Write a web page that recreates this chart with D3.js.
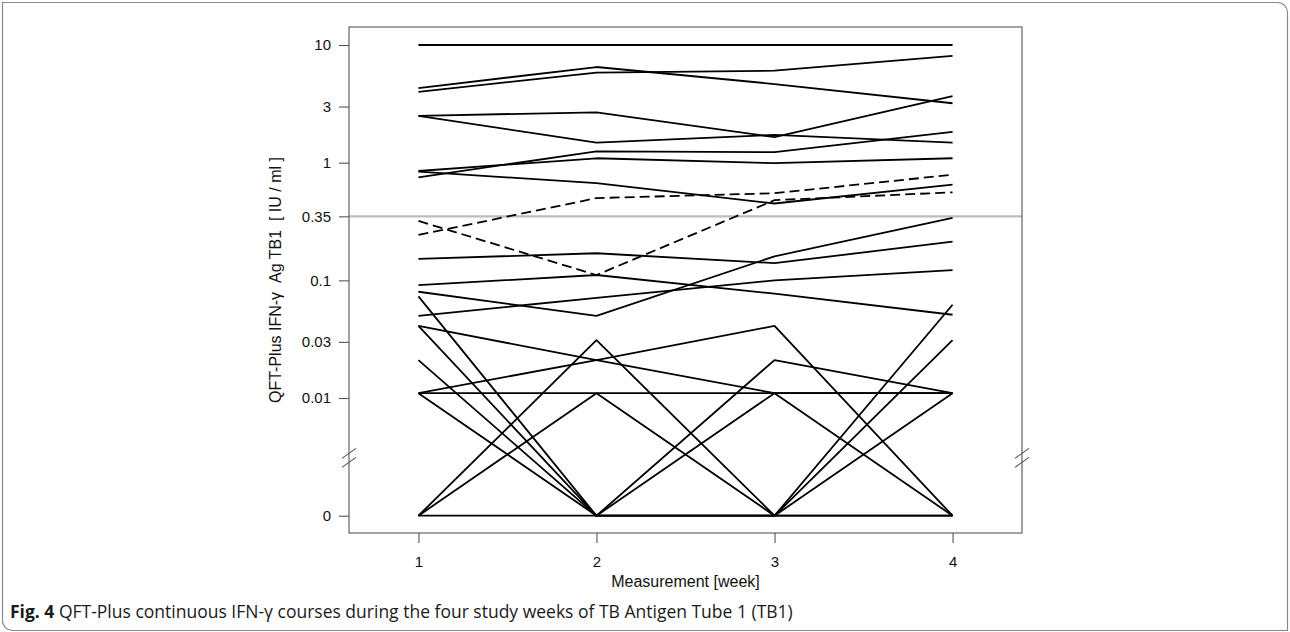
<!DOCTYPE html>
<html>
<head>
<meta charset="utf-8">
<script src="https://cdn.jsdelivr.net/npm/d3@7"></script>
<style>
  html, body { margin: 0; padding: 0; background: #fff; }
  svg { display: block; }
  text { font-family: "Liberation Sans", Arial, sans-serif; }
</style>
</head>
<body>
<svg id="chart" width="1290" height="632"></svg>
<script>
// Measurement weeks and y-axis ticks (0 sits below the axis break)
const weeks = [1, 2, 3, 4];
const yTicks = [0, 0.01, 0.03, 0.1, 0.35, 1, 3, 10];
const yTickLabels = ["0", "0.01", "0.03", "0.1", "0.35", "1", "3", "10"];
const cutoff = 0.35;

// Individual IFN-γ courses, IU/ml at weeks 1-4 (solid lines)
const s01 = [10, 10, 10, 10];
const s02 = [4.3, 6.5, 4.66, 3.2];
const s03 = [4.0, 5.83, 6.05, 8.07];
const s04 = [2.5, 2.68, 1.65, 3.68];
const s05 = [2.5, 1.48, 1.72, 1.48];
const s06 = [0.85, 1.09, 0.99, 1.09];
const s07 = [0.75, 1.25, 1.23, 1.83];
const s08 = [0.84, 0.67, 0.45, 0.65];
const s09 = [0.152, 0.17, 0.14, 0.213];
const s10 = [0.091, 0.111, 0.077, 0.051];
const s11 = [0.08, 0.05, 0.16, 0.34];
const s12 = [0.05, 0.071, 0.1, 0.122];
const s13 = [0.073, 0, 0.021, 0.011];
const s14 = [0.041, 0.021, 0.011, 0];
const s15 = [0.041, 0, 0.011, 0.011];
const s16 = [0.021, 0, 0, 0.011];
const s17 = [0.011, 0, 0, 0];
const s18 = [0.011, 0.021, 0.041, 0];
const s19 = [0.011, 0.011, 0.011, 0.011];
const s20 = [0, 0.031, 0, 0.062];
const s21 = [0, 0.011, 0, 0.031];
const s22 = [0, 0, 0, 0];

// Courses that cross the 0.35 cut-off (dashed lines)
const d01 = [0.32, 0.111, 0.48, 0.56];
const d02 = [0.243, 0.50, 0.55, 0.79];

const solidSeries = [s01, s02, s03, s04, s05, s06, s07, s08, s09, s10, s11,
                     s12, s13, s14, s15, s16, s17, s18, s19, s20, s21, s22];
const dashedSeries = [d01, d02];

// zero is drawn at 0.001 on the log axis, below the break
const ZERO_AT = 0.001;
const BREAK_AT = 0.0031;

const svg = d3.select("#chart");
const W = 1290, H = 632;

// outer figure frame (square top-left / bottom-right, rounded others)
const r = 10;
svg.append("path")
  .attr("d", `M2.5,2.5 H${W - 2.5 - r} A${r},${r} 0 0 1 ${W - 2.5},${2.5 + r}
              V${H - 1.5} H${2.5 + r} A${r},${r} 0 0 1 2.5,${H - 1.5 - r} Z`)
  .attr("fill", "none")
  .attr("stroke", "#8a8a8a")
  .attr("stroke-width", 1.2);

// plot region
const box = { left: 349, right: 1022, top: 27, bottom: 533 };

const x = d3.scaleLinear()
  .domain([0.61, 4.39])
  .range([box.left, box.right]);

const y = d3.scaleLog()
  .domain([Math.pow(10, -3.147), Math.pow(10, 1.153)])
  .range([box.bottom, box.top]);

const yv = v => y(v === 0 ? ZERO_AT : v);

// cut-off reference line
svg.append("line")
  .attr("x1", box.left).attr("x2", box.right)
  .attr("y1", y(cutoff)).attr("y2", y(cutoff))
  .attr("stroke", "#bdbdbd")
  .attr("stroke-width", 2.4);

const line = d3.line()
  .x((d, i) => x(weeks[i]))
  .y(d => yv(d));

const g = svg.append("g");
g.selectAll("path.solid")
  .data(solidSeries)
  .join("path")
  .attr("class", "solid")
  .attr("d", line)
  .attr("fill", "none")
  .attr("stroke", "#000")
  .attr("stroke-width", 1.8)
  .attr("stroke-linejoin", "round");

g.selectAll("path.dashed")
  .data(dashedSeries)
  .join("path")
  .attr("class", "dashed")
  .attr("d", line)
  .attr("fill", "none")
  .attr("stroke", "#000")
  .attr("stroke-width", 1.8)
  .attr("stroke-dasharray", "10,5");

// plot box
svg.append("rect")
  .attr("x", box.left).attr("y", box.top)
  .attr("width", box.right - box.left)
  .attr("height", box.bottom - box.top)
  .attr("fill", "none")
  .attr("stroke", "#555")
  .attr("stroke-width", 1.1);

// y axis
const yAxis = d3.axisLeft(y)
  .tickValues(yTicks.map(v => v === 0 ? ZERO_AT : v))
  .tickFormat((d, i) => yTickLabels[i])
  .tickSize(10)
  .tickPadding(8);
const yg = svg.append("g")
  .attr("transform", `translate(${box.left},0)`)
  .call(yAxis);
yg.select(".domain").remove();
yg.selectAll(".tick line").attr("stroke", "#555").attr("stroke-width", 1.1);
yg.selectAll(".tick text")
  .attr("font-family", "Liberation Sans, Arial, sans-serif")
  .attr("font-size", 15)
  .attr("fill", "#111");

// x axis
const xAxis = d3.axisBottom(x)
  .tickValues(weeks)
  .tickFormat(d3.format("d"))
  .tickSize(10)
  .tickPadding(13);
const xg = svg.append("g")
  .attr("transform", `translate(0,${box.bottom})`)
  .call(xAxis);
xg.select(".domain").remove();
xg.selectAll(".tick line").attr("stroke", "#555").attr("stroke-width", 1.1);
xg.selectAll(".tick text")
  .attr("font-family", "Liberation Sans, Arial, sans-serif")
  .attr("font-size", 15)
  .attr("fill", "#111");

// axis-break slashes on both vertical sides of the box
const yb = y(BREAK_AT);
[box.left, box.right].forEach(bx => {
  [-4.5, 4.5].forEach(off => {
    svg.append("line")
      .attr("x1", bx - 7).attr("y1", yb + off + 5)
      .attr("x2", bx + 7).attr("y2", yb + off - 5)
      .attr("stroke", "#555")
      .attr("stroke-width", 1.1);
  });
});

// axis titles
svg.append("text")
  .attr("x", (box.left + box.right) / 2)
  .attr("y", 587)
  .attr("text-anchor", "middle")
  .attr("font-size", 16)
  .attr("fill", "#111")
  .text("Measurement [week]");

svg.append("text")
  .attr("transform", `translate(281,${(box.top + box.bottom) / 2}) rotate(-90)`)
  .attr("text-anchor", "middle")
  .attr("font-size", 16)
  .attr("fill", "#111")
  .style("white-space", "pre")
  .text("QFT-Plus IFN-γ  Ag TB1  [ IU / ml ]");

// figure caption
const cap = svg.append("text")
  .attr("x", 10)
  .attr("y", 618)
  .attr("font-size", 17.5)
  .attr("fill", "#1a1a1a")
  .style("font-family", "'Open Sans', 'Noto Sans', sans-serif");
cap.append("tspan").attr("font-weight", "bold").text("Fig. 4");
cap.append("tspan").text(" QFT-Plus continuous IFN-γ courses during the four study weeks of TB Antigen Tube 1 (TB1)");
</script>
</body>
</html>
